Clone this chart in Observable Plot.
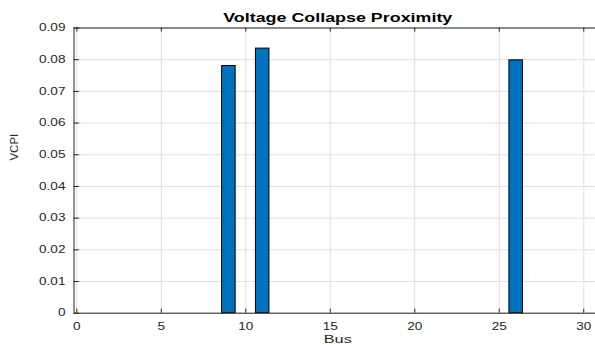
<!DOCTYPE html>
<html>
<head>
<meta charset="utf-8">
<script src="https://cdn.jsdelivr.net/npm/d3@7"></script>
<script src="https://cdn.jsdelivr.net/npm/@observablehq/plot@0.6"></script>
<style>
  html, body { margin: 0; padding: 0; background: #fff; }
  #chart { width: 595px; height: 345px; overflow: hidden; }
</style>
</head>
<body>
<div id="chart"></div>
<script>
// Voltage collapse proximity index (VCPI) per bus
const buses = d3.range(1, 31);
const vcpi = [
  0, 0, 0, 0, 0, 0, 0, 0, 0.0780, 0,
  0.0835, 0, 0, 0, 0, 0, 0, 0, 0, 0,
  0, 0, 0, 0, 0, 0.0798, 0, 0, 0, 0
];
const xTicks = [0, 5, 10, 15, 20, 25, 30];
const yTicks = [0, 0.01, 0.02, 0.03, 0.04, 0.05, 0.06, 0.07, 0.08, 0.09];
const titleText = "Voltage Collapse Proximity";
const xLabel = "Bus";
const yLabel = "VCPI";

const rows = buses.map((b, i) => ({bus: b, value: vcpi[i]}));

const W = 595, H = 345;
const mL = 73.5, mR = -6, mT = 27.5, mB = 32.3;
const frameW = W - mL - mR, frameH = H - mT - mB;
const barWidth = 0.8;
const axisColor = "#262626";
const gridColor = "#dfdfdf";

const svg = Plot.plot({
  width: W,
  height: H,
  marginLeft: mL,
  marginRight: mR,
  marginTop: mT,
  marginBottom: mB,
  style: {fontFamily: "'Liberation Sans', Arial, Helvetica, sans-serif", color: axisColor, background: "#fff"},
  x: {domain: [-0.166, 31.05]},
  y: {domain: [0, 0.09]},
  marks: [
    Plot.gridX(xTicks, {stroke: gridColor, strokeOpacity: 1}),
    Plot.gridY(yTicks, {stroke: gridColor, strokeOpacity: 1}),
    Plot.rectY(rows, {
      x1: d => d.bus - barWidth / 2,
      x2: d => d.bus + barWidth / 2,
      y: "value",
      fill: "#0072BD",
      stroke: "#000",
      strokeWidth: 1
    }),
    Plot.frame({stroke: axisColor}),
    // inward tick marks (bottom, top, left)
    Plot.ruleX(xTicks, {stroke: axisColor, insetTop: frameH - 4}),
    Plot.ruleX(xTicks, {stroke: axisColor, insetBottom: frameH - 4}),
    Plot.ruleY(yTicks, {stroke: axisColor, insetRight: frameW - 5.5}),
    Plot.axisX(xTicks, {tickSize: 0, tickPadding: 9.6, fontSize: 10, label: null, tickFormat: d => String(d)}),
    Plot.axisY(yTicks, {tickSize: 0, tickPadding: 8.5, fontSize: 10, label: null,
      tickFormat: d => d === 0 ? "0" : d.toFixed(2)}),
    Plot.text([xLabel], {text: d => d, frameAnchor: "bottom", dy: 26, lineAnchor: "middle", fontSize: 11, fill: axisColor}),
    Plot.text([yLabel], {text: d => d, frameAnchor: "left", dx: -59.5, dy: -10, rotate: -90, lineAnchor: "middle", fontSize: 11.5, fill: axisColor}),
    Plot.text([titleText], {text: d => d, frameAnchor: "top", dy: -9.6, lineAnchor: "middle", fontSize: 12, fontWeight: "bold", fill: "#000"})
  ]
});

// widen horizontal lettering about each label's anchor point
for (const t of svg.querySelectorAll("text")) {
  const tr = t.getAttribute("transform") || "";
  if (tr.includes("rotate")) continue;
  const s = /^[\d.]+$/.test(t.textContent.trim()) ? 1.36 : 1.49;
  const x = +t.getAttribute("x") || 0;
  t.setAttribute("transform", `${tr} translate(${x},0) scale(${s},1) translate(${-x},0)`);
}

document.getElementById("chart").appendChild(svg);
</script>
</body>
</html>
